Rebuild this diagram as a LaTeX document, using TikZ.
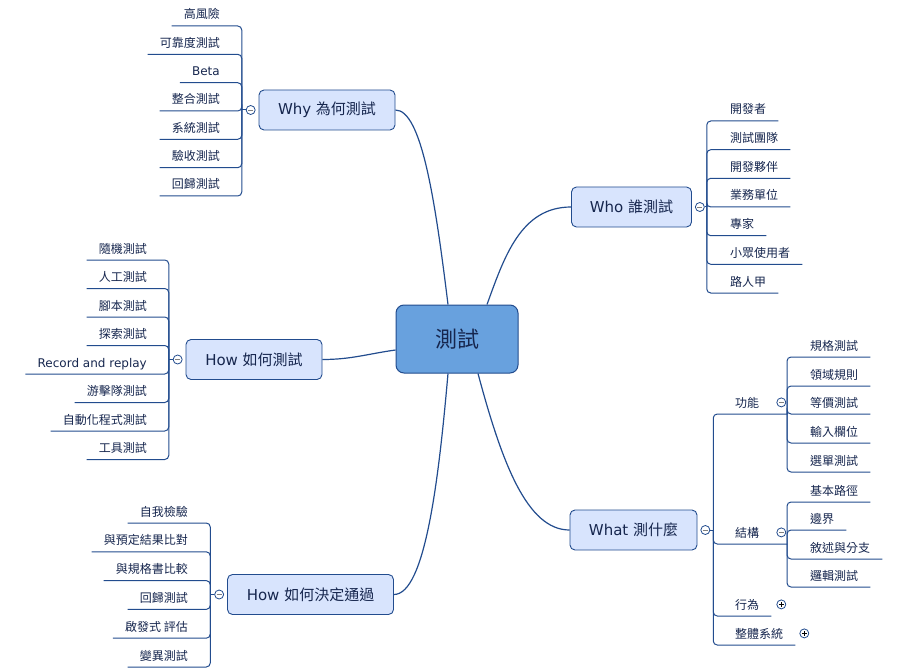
\documentclass[tikz,border=0pt]{standalone}
\usepackage{fontspec}
\setmainfont{Noto Sans CJK TC}
\newfontfamily\lat{DejaVu Sans}
\usetikzlibrary{positioning}
\definecolor{ligne}{RGB}{34,76,142}
\definecolor{fondcentre}{RGB}{104,161,222}
\definecolor{fondtheme}{RGB}{216,228,253}
\definecolor{texte}{RGB}{22,38,78}

\begin{document}
\begin{tikzpicture}[x=1pt,y=-1pt,
    centre/.style={draw=ligne, fill=fondcentre, line width=1pt, rounded corners=8pt,
      minimum width=122pt, minimum height=68pt, text=texte, font=\fontsize{22}{26}\selectfont},
    theme/.style={draw=ligne, fill=fondtheme, line width=0.9pt, rounded corners=5pt,
      minimum height=40pt, text=texte, font=\fontsize{15}{18}\selectfont},
    feuille/.style={inner xsep=12pt, inner ysep=0pt, text height=16pt, text depth=6.8pt,
      text=texte, font=\fontsize{12}{14}\selectfont},
    fg/.style={feuille, anchor=south east},
    fd/.style={feuille, anchor=south west},
    branche/.style={draw=ligne, line width=1pt, rounded corners=4pt},
    courbe/.style={draw=ligne, line width=1.2pt},
    pli/.style={circle, draw=ligne, fill=white, line width=0.8pt, inner sep=0pt, minimum size=9pt},
    moins/.style={pli, path picture={\draw[gray, line width=0.8pt]
      ([xshift=-2.5pt]path picture bounding box.center) -- ([xshift=2.5pt]path picture bounding box.center);}},
    plus/.style={pli, path picture={\draw[black, line width=0.8pt]
      ([xshift=-2.5pt]path picture bounding box.center) -- ([xshift=2.5pt]path picture bounding box.center)
      ([yshift=-2.5pt]path picture bounding box.center) -- ([yshift=2.5pt]path picture bounding box.center);}}]
  \useasboundingbox (0,0) rectangle (918,671);
  % le centre et les thèmes
  \node[centre] (root) at (457,339) {測試};
  \node[theme, minimum width=136pt] (why) at (327,110) {{\lat Why\ }為何測試};
  \node[theme, minimum width=120pt] (who) at (631.5,207) {{\lat Who\ }誰測試};
  \node[theme, minimum width=136pt] (how) at (254,359.5) {{\lat How\ }如何測試};
  \node[theme, minimum width=166pt] (pass) at (310.5,594.5) {{\lat How\ }如何決定通過};
  \node[theme, minimum width=127pt] (what) at (633.5,530) {{\lat What\ }測什麼};
  \draw[courbe] ([xshift=-9pt]root.north) to[out=97,in=0,out looseness=1.35,in looseness=0.33] (why.east);
  \draw[courbe] ([xshift=30pt]root.north) to[out=70,in=180] (who.west);
  \draw[courbe] ([yshift=-11pt]root.west) to[out=188,in=0] (how.east);
  \draw[courbe] ([xshift=-9pt]root.south) to[out=-95,in=0,out looseness=1.2,in looseness=0.35] (pass.east);
  \draw[courbe] ([xshift=21pt]root.south) to[out=-75,in=180,out looseness=1.3,in looseness=0.6] (what.west);
  % Why
  \node[moins, left=3pt of why] (whypli) {};
  \coordinate[left=4pt of whypli] (whyfork);
  \node[fg] (why1) at (232,26) {高風險};
  \node[fg] (why2) at (232,54.3) {可靠度測試};
  \node[fg] (why3) at (232,82.7) {\lat Beta};
  \node[fg] (why4) at (232,111) {整合測試};
  \node[fg] (why5) at (232,139.3) {系統測試};
  \node[fg] (why6) at (232,167.7) {驗收測試};
  \node[fg] (why7) at (232,196) {回歸測試};
  \draw[branche] (whypli) -- (whyfork);
  \draw[branche] (whyfork) |- (why1.south west);
  \draw[branche] (whyfork) |- (why2.south west);
  \draw[branche] (whyfork) |- (why3.south west);
  \draw[branche] (whyfork) |- (why4.south west);
  \draw[branche] (whyfork) |- (why5.south west);
  \draw[branche] (whyfork) |- (why6.south west);
  \draw[branche] (whyfork) |- (why7.south west);
  % Who
  \node[moins, right=3pt of who] (whopli) {};
  \coordinate[right=2pt of whopli] (whofork);
  \node[fd] (who1) at (718,121) {開發者};
  \node[fd] (who2) at (718,149.7) {測試團隊};
  \node[fd] (who3) at (718,178.3) {開發夥伴};
  \node[fd] (who4) at (718,207) {業務單位};
  \node[fd] (who5) at (718,235.7) {專家};
  \node[fd] (who6) at (718,264.3) {小眾使用者};
  \node[fd] (who7) at (718,293) {路人甲};
  \draw[branche] (whopli) -- (whofork);
  \draw[branche] (whofork) |- (who1.south east);
  \draw[branche] (whofork) |- (who2.south east);
  \draw[branche] (whofork) |- (who3.south east);
  \draw[branche] (whofork) |- (who4.south east);
  \draw[branche] (whofork) |- (who5.south east);
  \draw[branche] (whofork) |- (who6.south east);
  \draw[branche] (whofork) |- (who7.south east);
  % How
  \node[moins, left=3pt of how] (howpli) {};
  \coordinate[left=4pt of howpli] (howfork);
  \node[fg] (how1) at (159,260) {隨機測試};
  \node[fg] (how2) at (159,288.5) {人工測試};
  \node[fg] (how3) at (159,317) {腳本測試};
  \node[fg] (how4) at (159,345.5) {探索測試};
  \node[fg] (how5) at (159,374) {\lat Record and replay};
  \node[fg] (how6) at (159,402.5) {游擊隊測試};
  \node[fg] (how7) at (159,431) {自動化程式測試};
  \node[fg] (how8) at (159,459.5) {工具測試};
  \draw[branche] (howpli) -- (howfork);
  \draw[branche] (howfork) |- (how1.south west);
  \draw[branche] (howfork) |- (how2.south west);
  \draw[branche] (howfork) |- (how3.south west);
  \draw[branche] (howfork) |- (how4.south west);
  \draw[branche] (howfork) |- (how5.south west);
  \draw[branche] (howfork) |- (how6.south west);
  \draw[branche] (howfork) |- (how7.south west);
  \draw[branche] (howfork) |- (how8.south west);
  % How (通過)
  \node[moins, left=3pt of pass] (passpli) {};
  \coordinate[left=4pt of passpli] (passfork);
  \node[fg] (pass1) at (200,523) {自我檢驗};
  \node[fg] (pass2) at (200,551.8) {與預定結果比對};
  \node[fg] (pass3) at (200,580.6) {與規格書比較};
  \node[fg] (pass4) at (200,609.4) {回歸測試};
  \node[fg] (pass5) at (200,638.2) {啟發式 評估};
  \node[fg] (pass6) at (200,667) {變異測試};
  \draw[branche] (passpli) -- (passfork);
  \draw[branche] (passfork) |- (pass1.south west);
  \draw[branche] (passfork) |- (pass2.south west);
  \draw[branche] (passfork) |- (pass3.south west);
  \draw[branche] (passfork) |- (pass4.south west);
  \draw[branche] (passfork) |- (pass5.south west);
  \draw[branche] (passfork) |- (pass6.south west);
  % What
  \node[moins, right=3pt of what] (whatpli) {};
  \coordinate[right=3pt of whatpli] (whatfork);
  \node[fd] (func) at (723,414) {功能};
  \node[fd] (struct) at (723,544) {結構};
  \node[fd] (behav) at (723,616) {行為};
  \node[fd] (whole) at (723,645) {整體系統};
  \node[moins, right=5pt of func] (funcpli) {};
  \node[moins, right=5pt of struct] (structpli) {};
  \node[plus, right=5pt of behav] (behavpli) {};
  \node[plus, right=4pt of whole] (wholepli) {};
  \coordinate (funcfork) at (787,414);
  \coordinate (structfork) at (787,544);
  \draw[branche] (whatpli) -- (whatfork);
  \draw[branche] (whatfork) |- (funcfork);
  \draw[branche] (whatfork) |- (structfork);
  \draw[branche] (whatfork) |- (behav.south east);
  \draw[branche] (whatfork) |- (whole.south east);
  % 功能 et 結構
  \node[fd] (func1) at (798,357) {規格測試};
  \node[fd] (func2) at (798,386) {領域規則};
  \node[fd] (func3) at (798,414) {等價測試};
  \node[fd] (func4) at (798,443) {輸入欄位};
  \node[fd] (func5) at (798,472) {選單測試};
  \draw[branche] (funcfork) |- (func1.south east);
  \draw[branche] (funcfork) |- (func2.south east);
  \draw[branche] (funcfork) |- (func3.south east);
  \draw[branche] (funcfork) |- (func4.south east);
  \draw[branche] (funcfork) |- (func5.south east);
  \node[fd] (struct1) at (798,502) {基本路徑};
  \node[fd] (struct2) at (798,530) {邊界};
  \node[fd] (struct3) at (798,559) {敘述與分支};
  \node[fd] (struct4) at (798,587) {邏輯測試};
  \draw[branche] (structfork) |- (struct1.south east);
  \draw[branche] (structfork) |- (struct2.south east);
  \draw[branche] (structfork) |- (struct3.south east);
  \draw[branche] (structfork) |- (struct4.south east);
\end{tikzpicture}
\end{document}
